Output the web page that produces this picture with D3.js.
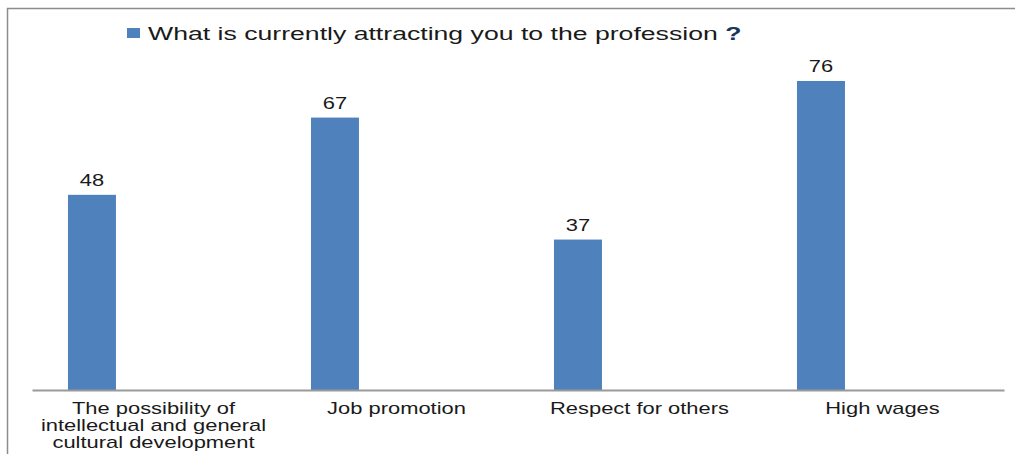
<!DOCTYPE html>
<html>
<head>
<meta charset="utf-8">
<script src="https://cdn.jsdelivr.net/npm/d3@7"></script>
<style>
  html, body { margin: 0; padding: 0; background: #fff; }
  svg { display: block; }
</style>
</head>
<body>
<svg id="chart" width="1015" height="454"></svg>
<script>
// Survey answers: what attracts respondents to the profession
const categories = [
  ["The possibility of", "intellectual and general", "cultural development"],
  ["Job promotion"],
  ["Respect for others"],
  ["High wages"]
];
const categoryKeys = ["intellectual", "promotion", "respect", "wages"];
const values = [48, 67, 37, 76];
const seriesName = "What is currently attracting you to the profession";

const W = 1015, H = 454;
const svg = d3.select("#chart");
const font = "'Liberation Sans', Arial, sans-serif";
const stretch = 1.37; // wide-set lettering

// chart frame (right and bottom edges fall outside the view)
svg.append("path")
  .attr("d", `M7.5,${H} V8.5 H${W}`)
  .attr("fill", "none")
  .attr("stroke", "#8c8c8c")
  .attr("stroke-width", 1.5);

const plot = { left: 32, right: 1004, top: 65, bottom: 390 };

const x = d3.scaleBand()
  .domain(categoryKeys)
  .range([plot.left, plot.right])
  .paddingInner(0).paddingOuter(0);

const y = d3.scaleLinear()
  .domain([0, 80])
  .range([plot.bottom, plot.bottom - 80 * 4.066]);

// bar sits in the first slot of each category band
const barOffset = 0.148, barWidth = 0.1975;
const barCenter = i => x(categoryKeys[i]) + x.bandwidth() * (barOffset + barWidth / 2);

const g = svg.append("g");

g.selectAll("rect.bar")
  .data(values)
  .join("rect")
  .attr("class", "bar")
  .attr("x", (d, i) => x(categoryKeys[i]) + x.bandwidth() * barOffset)
  .attr("width", x.bandwidth() * barWidth)
  .attr("y", d => y(d))
  .attr("height", d => y(0) - y(d))
  .attr("fill", "#4F81BD");

// value labels
g.selectAll("text.val")
  .data(values)
  .join("text")
  .attr("class", "val")
  .attr("transform", (d, i) => `translate(${barCenter(i)},${y(d) - 8.5}) scale(${stretch},1)`)
  .attr("text-anchor", "middle")
  .attr("font-family", font)
  .attr("font-size", 16)
  .attr("fill", "#1a1a1a")
  .text(d => d);

// category axis
const xAxis = d3.axisBottom(x).tickSize(0).tickFormat("");
const axisG = svg.append("g")
  .attr("transform", `translate(0,${plot.bottom})`)
  .call(xAxis);
axisG.select(".domain").attr("stroke", "#9a9a9a").attr("stroke-width", 2);

categoryKeys.forEach((k, i) => {
  const cx = x(k) + x.bandwidth() / 2;
  const t = svg.append("text")
    .attr("transform", `translate(${cx},413.5) scale(${stretch},1)`)
    .attr("text-anchor", "middle")
    .attr("font-family", font)
    .attr("font-size", 16)
    .attr("fill", "#1a1a1a");
  categories[i].forEach((line, j) => {
    t.append("tspan")
      .attr("x", 0)
      .attr("dy", j === 0 ? 0 : 17.2)
      .text(line);
  });
});

// legend
const legend = svg.append("g");
legend.append("rect")
  .attr("x", 127).attr("y", 28)
  .attr("width", 13).attr("height", 10)
  .attr("fill", "#4F81BD");
const lt = legend.append("text")
  .attr("transform", `translate(148,39.5) scale(1.44,1)`)
  .attr("font-family", font)
  .attr("font-size", 18.5)
  .attr("fill", "#1a1a1a");
lt.append("tspan").text(seriesName + " ");
lt.append("tspan").attr("fill", "#17365D").attr("font-weight", "bold").text("?");
</script>
</body>
</html>
